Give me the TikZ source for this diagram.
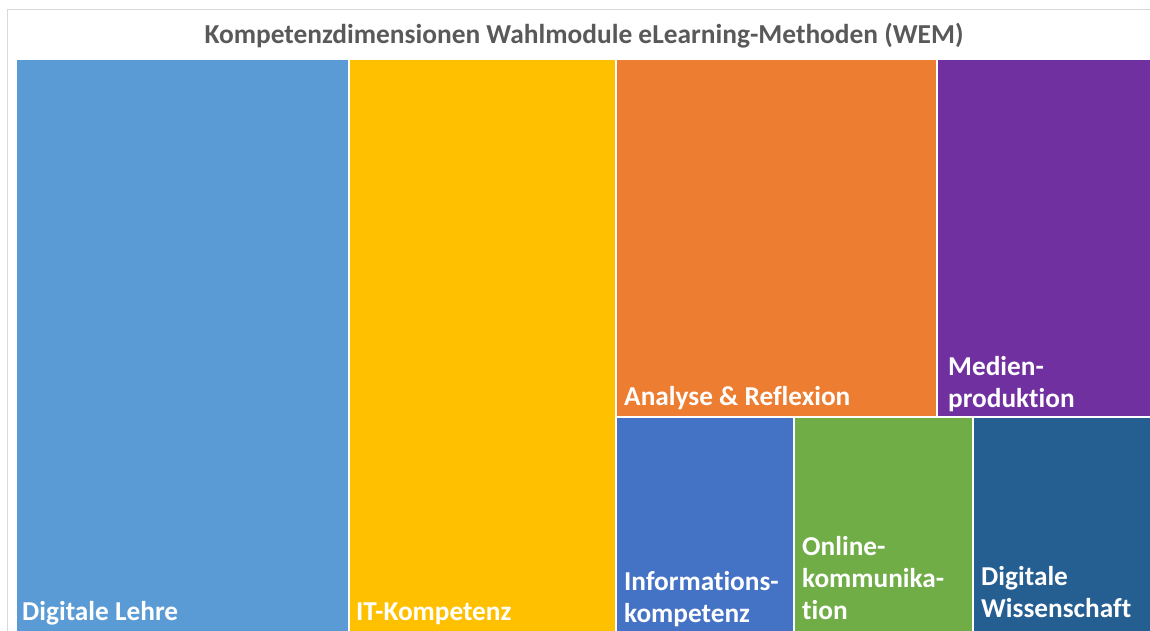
\documentclass[tikz,border=0pt]{standalone}
\usepackage{fontspec}
\setmainfont{Carlito}[RawFeature=-liga]
\usetikzlibrary{positioning}
\definecolor{lehre}{HTML}{5B9BD5}
\definecolor{itk}{HTML}{FFC000}
\definecolor{analyse}{HTML}{ED7D31}
\definecolor{medien}{HTML}{7030A0}
\definecolor{info}{HTML}{4472C4}
\definecolor{online}{HTML}{70AD47}
\definecolor{wiss}{HTML}{255E91}
\definecolor{frame}{HTML}{D9D9D9}
\definecolor{titlegray}{HTML}{595959}

\begin{document}
\begin{tikzpicture}[x=1pt,y=-1pt,
  cell/.style={fill=#1, draw=white, line width=2pt, anchor=north west, inner sep=0pt, outer sep=0pt},
  lbl/.style={text=white, font=\bfseries\fontsize{27.3}{32}\selectfont, align=left, anchor=base west, inner sep=0pt}]
\useasboundingbox (0,0) rectangle (1150,631);
\clip (0,0) rectangle (1150,631);
\draw[frame, line width=1pt] (7,700) -- (7,10) -- (1200,10);
\node[text=titlegray, font=\bfseries\fontsize{27.4}{30}\selectfont, anchor=base, inner sep=0pt] (t) at (584,44) {Kompetenzdimensionen Wahlmodule eLearning-Methoden (WEM)};
%
\node[cell=lehre, minimum width=333pt, minimum height=600pt] (a) at (16,59) {};
\node[cell=itk, minimum width=267pt, minimum height=600pt] (b) at (a.north east) {};
\node[cell=analyse, minimum width=321pt, minimum height=357.5pt] (c) at (b.north east) {};
\node[cell=medien, minimum width=240pt, minimum height=357.5pt] (d) at (c.north east) {};
\node[cell=info, minimum width=178pt, minimum height=240pt] (e) at (c.south west) {};
\node[cell=online, minimum width=179pt, minimum height=240pt] (f) at (e.north east) {};
\node[cell=wiss, minimum width=200pt, minimum height=240pt] (g) at (f.north east) {};
%
\node[lbl] (la) at (22,620) {Digitale Lehre};
\node[lbl] (lb) at (356,620) {IT-Kompetenz};
\node[lbl] (lc) at (624,405) {Analyse \& Reflexion};
\node[lbl] (ld) at (948,407) {Medien-\\produktion};
\node[lbl] (le) at (624,622) {Informations-\\kompetenz};
\node[lbl] (lf) at (802,619) {Online-\\kommunika-\\tion};
\node[lbl] (lg) at (981,617) {Digitale\\Wissenschaft};
\end{tikzpicture}
\end{document}
